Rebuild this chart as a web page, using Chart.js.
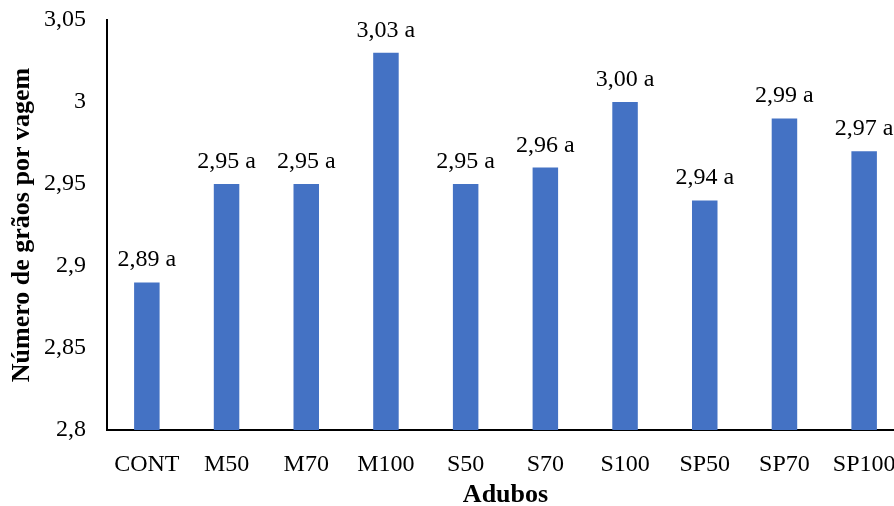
<!DOCTYPE html>
<html lang="pt">
<head>
<meta charset="utf-8">
<script src="https://cdn.jsdelivr.net/npm/chart.js@4.4.1/dist/chart.umd.min.js"></script>
<style>
  html, body { margin: 0; padding: 0; background: #fff; overflow: hidden; }
  #wrap { width: 904px; height: 511px; }
</style>
</head>
<body>
<div id="wrap"><canvas id="grafico"></canvas></div>
<script>
// tratamentos (adubos) e médias de grãos por vagem
const adubos = ['CONT', 'M50', 'M70', 'M100', 'S50', 'S70', 'S100', 'SP50', 'SP70', 'SP100'];
const graosPorVagem = [2.89, 2.95, 2.95, 3.03, 2.95, 2.96, 3.00, 2.94, 2.99, 2.97];
const letrasTukey = ['a', 'a', 'a', 'a', 'a', 'a', 'a', 'a', 'a', 'a'];
const rotulosY = ['2,8', '2,85', '2,9', '2,95', '3', '3,05'];

const fonte = 'Liberation Serif, Times New Roman, serif';

// escreve "2,89 a" por cima de cada barra
const rotulosBarras = {
    id: 'rotulosBarras',
    afterDatasetsDraw(chart) {
        const ctx = chart.ctx;
        const meta = chart.getDatasetMeta(0);
        ctx.save();
        ctx.font = '24px ' + fonte;
        ctx.fillStyle = '#000';
        ctx.textAlign = 'center';
        ctx.textBaseline = 'alphabetic';
        meta.data.forEach((bar, i) => {
            const txt = graosPorVagem[i].toFixed(2).replace('.', ',') + ' ' + letrasTukey[i];
            ctx.fillText(txt, bar.x, bar.y - 16);
        });
        ctx.restore();
    }
};

new Chart(document.getElementById('grafico'), {
    type: 'bar',
    data: {
        labels: adubos,
        datasets: [{
            data: graosPorVagem,
            backgroundColor: '#4472C4',
            barPercentage: 0.32,
            categoryPercentage: 1
        }]
    },
    options: {
        responsive: true,
        maintainAspectRatio: false,
        animation: false,
        layout: { padding: { top: 20, right: 0, bottom: 0, left: 0 } },
        plugins: {
            legend: { display: false },
            tooltip: { enabled: false }
        },
        scales: {
            y: {
                min: 2.8,
                max: 3.05,
                afterBuildTicks: (s) => {
                    s.ticks = rotulosY.map(t => ({ value: parseFloat(t.replace(',', '.')) }));
                },
                afterFit: (s) => {
                    s.width = 107;
                    s.paddingTop = 0;
                    s.paddingBottom = 0;
                },
                grid: { display: false, drawTicks: false },
                border: { display: true, color: '#000', width: 2 },
                ticks: {
                    padding: 21,
                    color: '#000',
                    font: { family: fonte, size: 24 },
                    callback: (v, i) => rotulosY[i]
                },
                title: {
                    display: true,
                    text: 'Número de grãos por vagem',
                    color: '#000',
                    font: { family: fonte, size: 26, weight: 'bold' },
                    padding: { top: 7, bottom: 0 }
                }
            },
            x: {
                afterFit: (s) => {
                    s.height = 81;
                    s.paddingLeft = 0;
                    s.paddingRight = 0;
                },
                grid: { display: false, drawTicks: false },
                border: { display: true, color: '#000', width: 2 },
                ticks: {
                    padding: 20,
                    color: '#000',
                    maxRotation: 0,
                    autoSkip: false,
                    font: { family: fonte, size: 24 }
                },
                title: {
                    display: true,
                    text: 'Adubos',
                    color: '#000',
                    font: { family: fonte, size: 26, weight: 'bold' },
                    padding: { top: 0, bottom: 0 }
                }
            }
        }
    },
    plugins: [rotulosBarras]
});
</script>
</body>
</html>
